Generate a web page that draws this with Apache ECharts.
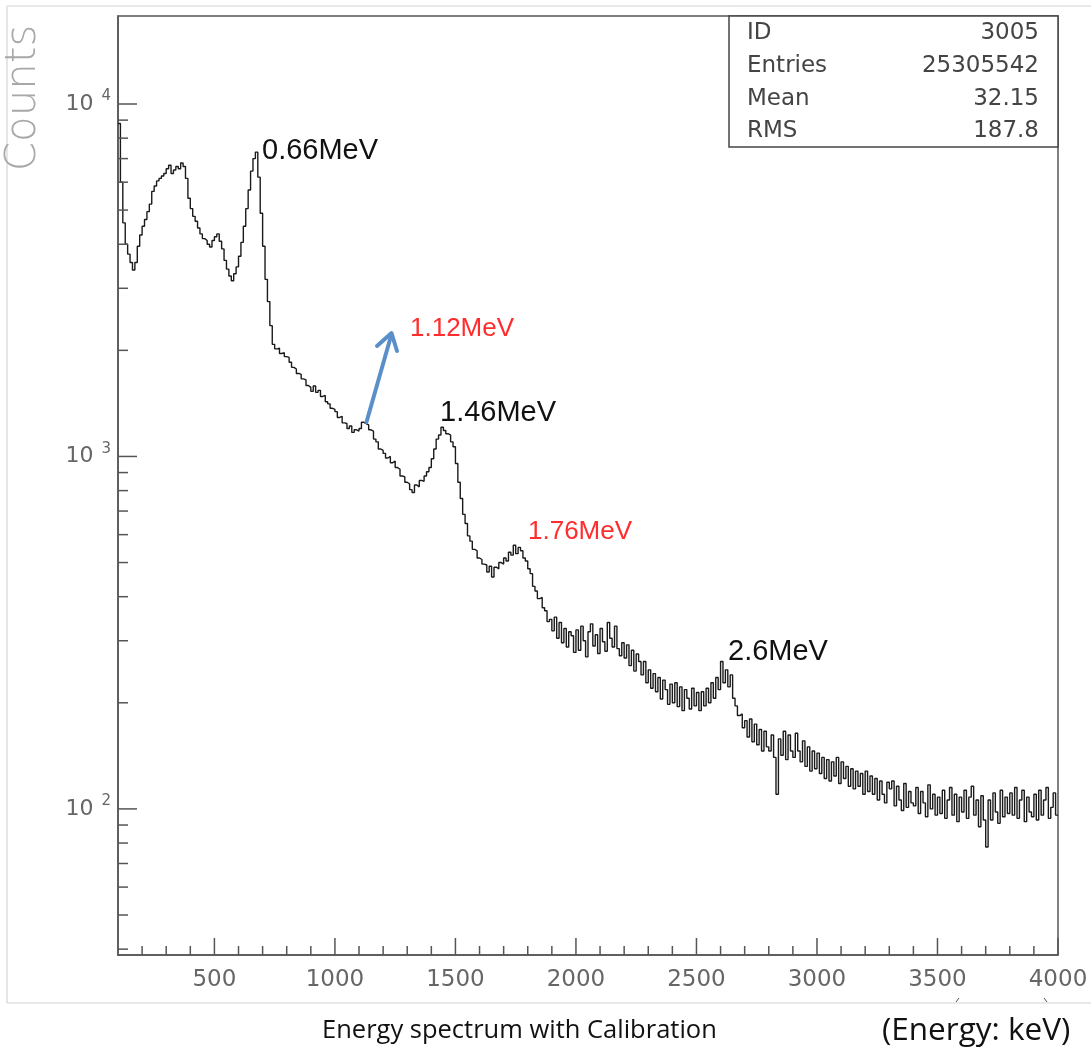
<!DOCTYPE html>
<html><head><meta charset="utf-8">
<script src="https://cdn.jsdelivr.net/npm/echarts@6/dist/echarts.min.js"></script>
<style>html,body{margin:0;padding:0;background:#fff;}#c{width:1091px;height:1051px;}</style>
</head><body><div id="c"></div>
<script>
// ---- data (histogram, 10 keV bins starting at 100 keV; one row = 100 keV) ----
const binStart = 100;
const binWidth = 10;
const counts = [
  8800, 6000, 4600, 4000, 3750, 3550, 3380, 3550, 3950, 4250,
  4500, 4700, 4950, 5200, 5650, 5850, 6050, 6150, 6250, 6350,
  6550, 6700, 6350, 6500, 6650, 6550, 6800, 6650, 6150, 5400,
  5050, 4800, 4650, 4450, 4280, 4150, 4100, 4000, 3930, 4100,
  4200, 4280, 4080, 3880, 3600, 3400, 3250, 3150, 3300, 3450,
  3700, 4050, 4500, 5050, 5700, 6450, 7000, 7300, 6200, 4900,
  3950, 3180, 2750, 2350, 2080, 2020, 2030, 1960, 1970, 1920,
  1910, 1850, 1790, 1770, 1720, 1710, 1660, 1650, 1590, 1570,
  1530, 1585, 1520, 1540, 1480, 1490, 1430, 1410, 1370, 1360,
  1340, 1290, 1300, 1245, 1240, 1200, 1220, 1170, 1190, 1180,
  1200, 1250, 1240, 1230, 1190, 1180, 1120, 1100, 1050, 1040,
  1020, 990, 1000, 960, 970, 930, 920, 880, 875, 845,
  835, 805, 790, 830, 820, 855, 850, 880, 905, 930,
  985, 1050, 1120, 1150, 1210, 1185, 1160, 1150, 1100, 1065,
  955, 845, 760, 685, 645, 595, 575, 545, 540, 515,
  510, 495, 492, 470, 488, 455, 485, 480, 500, 495,
  515, 505, 535, 525, 560, 530, 552, 540, 515, 505,
  480, 465, 428, 415, 395, 398, 372, 365, 340, 345,
  320, 350, 305, 338, 296, 325, 288, 318, 310, 278,
  322, 282, 330, 300, 270, 318, 335, 290, 312, 276,
  325, 298, 280, 338, 305, 288, 330, 285, 272, 296,
  268, 292, 255, 282, 246, 275, 262, 240, 262, 228,
  248, 220, 242, 215, 236, 205, 232, 218, 198, 226,
  200, 228, 195, 222, 190, 218, 206, 192, 220, 196,
  214, 190, 215, 196, 220, 200, 228, 206, 236, 218,
  262, 228, 248, 222, 240, 206, 196, 184, 186, 170,
  178, 160, 180, 155, 174, 152, 168, 146, 166, 150,
  146, 162, 140, 110, 158, 142, 166, 138, 162, 146,
  140, 164, 146, 136, 156, 132, 150, 128, 146, 130,
  144, 126, 140, 122, 138, 120, 136, 124, 140, 118,
  136, 122, 132, 116, 130, 114, 128, 116, 126, 110,
  128, 112, 124, 110, 122, 106, 120, 110, 104, 119,
  114, 120, 102, 116, 106, 99, 118, 101, 112, 104,
  102, 115, 97, 112, 104, 95, 117, 100, 110, 96,
  108, 97, 113, 94, 106, 115, 96, 110, 92, 108,
  98, 113, 94, 108, 116, 96, 106, 89, 109, 93,
  78, 106, 93, 111, 98, 91, 113, 95, 108, 97,
  111, 96, 115, 94, 106, 113, 92, 108, 98, 95,
  110, 93, 113, 96, 106, 115, 94, 101, 111, 96
];
const X_MIN = 100, X_MAX = 4000;
const Y_MIN = 38.5, Y_MAX = 17770;
const xMajorTicks = [500, 1000, 1500, 2000, 2500, 3000, 3500, 4000];
const xMinorTicks = [200, 300, 400, 600, 700, 800, 900, 1100, 1200, 1300, 1400, 1600, 1700, 1800, 1900,
  2100, 2200, 2300, 2400, 2600, 2700, 2800, 2900, 3100, 3200, 3300, 3400, 3600, 3700, 3800, 3900];
const yMajorTicks = [100, 1000, 10000];
const yMinorTicks = [40, 50, 60, 70, 80, 90, 200, 300, 400, 500, 600, 700, 800, 900,
  2000, 3000, 4000, 5000, 6000, 7000, 8000, 9000];
const peakLabels = ['0.66MeV', '1.12MeV', '1.46MeV', '1.76MeV', '2.6MeV'];
const statNames = ['ID', 'Entries', 'Mean', 'RMS'];
const statValues = ['3005', '25305542', '32.15', '187.8'];

const histData = counts.map((c, i) => [binStart + i * binWidth, c]);
histData.push([binStart + counts.length * binWidth, counts[counts.length - 1]]);

const FRAME = '#555';
function tickSeries(values, isX, len) {
  return {
    type: 'custom', silent: true, clip: false, z: 5,
    data: values.map(v => isX ? [v, Y_MIN] : [X_MIN, v]),
    encode: { x: 0, y: 1 },
    renderItem: function (params, api) {
      const p = api.coord([api.value(0), api.value(1)]);
      return {
        type: 'line',
        shape: isX ? { x1: p[0], y1: p[1], x2: p[0], y2: p[1] - len }
                   : { x1: p[0], y1: p[1], x2: p[0] + len, y2: p[1] },
        style: { stroke: FRAME, lineWidth: 1.5 }
      };
    }
  };
}

const chart = echarts.init(document.getElementById('c'), null, { renderer: 'canvas' });
const labelFont = "'DejaVu Sans', sans-serif";
const annFont = "'Liberation Sans', Arial, sans-serif";
const capFont = "'Open Sans', Lato, sans-serif";

const option = {
  animation: false,
  backgroundColor: '#fff',
  grid: { left: 118, top: 16, right: 33, bottom: 96, containLabel: false, outerBoundsMode: 'none',
          show: true, borderColor: FRAME, borderWidth: 1.5, backgroundColor: 'transparent' },
  xAxis: {
    type: 'value', min: X_MIN, max: X_MAX, interval: 100,
    axisLine: { show: true, onZero: false, lineStyle: { color: FRAME, width: 1.5 } },
    axisTick: { show: false }, splitLine: { show: false },
    axisLabel: {
      margin: 14, color: '#666', fontSize: 23, fontFamily: labelFont,
      formatter: v => (v % 500 === 0 ? String(v) : '')
    }
  },
  yAxis: {
    type: 'log', logBase: 10, min: Y_MIN, max: Y_MAX,
    axisLine: { show: true, lineStyle: { color: FRAME, width: 1.5 } },
    axisTick: { show: false }, splitLine: { show: false }, minorTick: { show: false },
    axisLabel: {
      margin: 7,
      formatter: function (v) {
        const l = Math.log10(v);
        if (Math.abs(l - Math.round(l)) < 1e-6) return '{b|10}{e|' + Math.round(l) + '}';
        return '';
      },
      rich: {
        b: { fontSize: 22, color: '#666', fontFamily: labelFont, lineHeight: 30, verticalAlign: 'middle' },
        e: { fontSize: 15, color: '#666', fontFamily: labelFont, lineHeight: 16, verticalAlign: 'top', padding: [0, 0, 0, 8] }
      }
    }
  },
  series: [
    {
      type: 'line', data: histData, step: 'end', showSymbol: false, symbol: 'none',
      lineStyle: { color: '#1a1a1a', width: 1.4 }, z: 3, silent: true
    },
    tickSeries(xMajorTicks, true, 17),
    tickSeries(xMinorTicks, true, 9),
    tickSeries(yMajorTicks, false, 19),
    tickSeries(yMinorTicks, false, 10)
  ],
  graphic: [
    { type: 'line', shape: { x1: 7, y1: 6, x2: 1091, y2: 6 }, style: { stroke: '#d4d4d4', lineWidth: 1.2 }, silent: true },
    { type: 'line', shape: { x1: 7, y1: 6, x2: 7, y2: 1003 }, style: { stroke: '#d4d4d4', lineWidth: 1.2 }, silent: true },
    { type: 'line', shape: { x1: 7, y1: 1003, x2: 1091, y2: 1003 }, style: { stroke: '#d4d4d4', lineWidth: 1.2 }, silent: true },
    { type: 'line', shape: { x1: 956, y1: 1002, x2: 959, y2: 998 }, style: { stroke: '#555', lineWidth: 1 }, silent: true },
    { type: 'line', shape: { x1: 1044, y1: 998, x2: 1047, y2: 1002 }, style: { stroke: '#555', lineWidth: 1 }, silent: true },
    { type: 'text', x: 24, y: 98, rotation: Math.PI / 2, silent: true,
      style: { text: 'Counts', fill: '#a8a8a8', fontSize: 42, fontWeight: 200, fontFamily: labelFont,
               align: 'center', verticalAlign: 'middle' } },
    { type: 'rect', shape: { x: 729, y: 16, width: 329, height: 131 }, z: 10,
      style: { fill: '#fff', stroke: '#444', lineWidth: 1.5 }, silent: true },
    ...statNames.map((t, i) => ({ type: 'text', x: 747, y: 33 + i * 32.8, z: 11, silent: true,
      style: { text: t, fill: '#444', fontSize: 23, fontFamily: labelFont, align: 'left', verticalAlign: 'middle' } })),
    ...statValues.map((t, i) => ({ type: 'text', x: 1039, y: 33 + i * 32.8, z: 11, silent: true,
      style: { text: t, fill: '#444', fontSize: 23, fontFamily: labelFont, align: 'right', verticalAlign: 'middle' } })),
    { type: 'text', x: 262, y: 151, z: 12, silent: true, style: { text: peakLabels[0], fill: '#111', fontSize: 29, fontFamily: annFont, verticalAlign: 'middle' } },
    { type: 'text', x: 410, y: 329, z: 12, silent: true, style: { text: peakLabels[1], fill: '#ff2d2d', fontSize: 26, fontFamily: annFont, verticalAlign: 'middle' } },
    { type: 'text', x: 440, y: 413, z: 12, silent: true, style: { text: peakLabels[2], fill: '#111', fontSize: 29, fontFamily: annFont, verticalAlign: 'middle' } },
    { type: 'text', x: 528, y: 532, z: 12, silent: true, style: { text: peakLabels[3], fill: '#ff2d2d', fontSize: 26, fontFamily: annFont, verticalAlign: 'middle' } },
    { type: 'text', x: 728, y: 652, z: 12, silent: true, style: { text: peakLabels[4], fill: '#111', fontSize: 29, fontFamily: annFont, verticalAlign: 'middle' } },
    { type: 'line', shape: { x1: 366.5, y1: 422, x2: 391, y2: 336 }, z: 12, silent: true,
      style: { stroke: '#5b8fc9', lineWidth: 4, lineCap: 'round' } },
    { type: 'polyline', shape: { points: [[377, 346], [391.5, 333], [397, 351]] }, z: 12, silent: true,
      style: { stroke: '#5b8fc9', lineWidth: 4, lineCap: 'round', lineJoin: 'round', fill: null } },
    { type: 'text', x: 322, y: 1031, silent: true,
      style: { text: 'Energy spectrum with Calibration', fill: '#111', fontSize: 25.5, fontFamily: capFont, verticalAlign: 'middle' } },
    { type: 'text', x: 882, y: 1031, silent: true,
      style: { text: '(Energy: keV)', fill: '#111', fontSize: 31.5, fontFamily: capFont, verticalAlign: 'middle' } }
  ]
};
chart.setOption(option);
</script>
</body></html>
